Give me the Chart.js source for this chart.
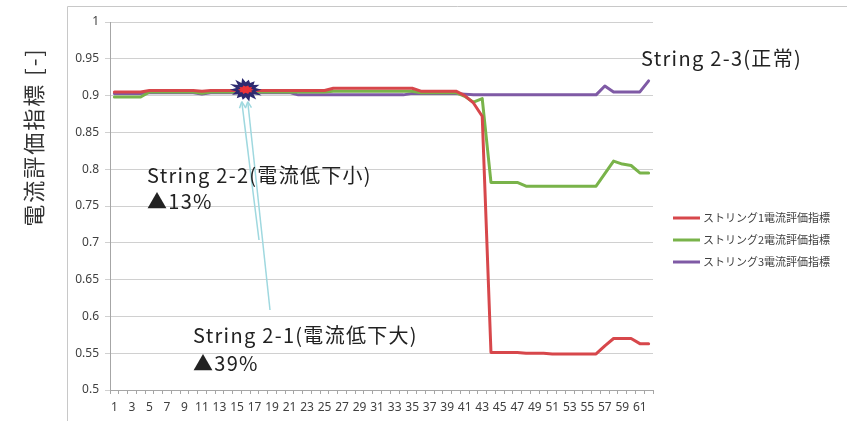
<!DOCTYPE html>
<html>
<head>
<meta charset="utf-8">
<script src="https://cdn.jsdelivr.net/npm/chart.js@4"></script>
<style>
  html, body { margin: 0; padding: 0; background: #fff; }
  #wrap { position: relative; width: 847px; height: 421px; }
  canvas { display: block; }
</style>
</head>
<body>
<div id="wrap"><canvas id="c" width="847" height="421"></canvas></div>
<script>
// Measurement index 1..62
const categories = Array.from({ length: 62 }, (_, i) => String(i + 1));

const seriesNames = [
  'ストリング1電流評価指標',
  'ストリング2電流評価指標',
  'ストリング3電流評価指標'
];

// String 1 current evaluation index
const string1 = [
  0.905, 0.905, 0.905, 0.905, 0.907, 0.907, 0.907, 0.907, 0.907, 0.907,
  0.906, 0.907, 0.907, 0.907, 0.907, 0.907, 0.907, 0.907, 0.907, 0.907,
  0.907, 0.907, 0.907, 0.907, 0.907, 0.910, 0.910, 0.910, 0.910, 0.910,
  0.910, 0.910, 0.910, 0.910, 0.910, 0.906, 0.906, 0.906, 0.906, 0.906,
  0.900, 0.890, 0.872, 0.551, 0.551, 0.551, 0.551, 0.550, 0.550, 0.550,
  0.549, 0.549, 0.549, 0.549, 0.549, 0.549, 0.560, 0.570, 0.570, 0.570,
  0.563, 0.563
];

// String 2 current evaluation index
const string2 = [
  0.898, 0.898, 0.898, 0.898, 0.905, 0.905, 0.905, 0.905, 0.905, 0.905,
  0.903, 0.905, 0.905, 0.905, 0.905, 0.905, 0.905, 0.905, 0.905, 0.905,
  0.905, 0.905, 0.905, 0.905, 0.905, 0.906, 0.906, 0.906, 0.906, 0.906,
  0.906, 0.906, 0.906, 0.906, 0.906, 0.904, 0.904, 0.904, 0.904, 0.904,
  0.899, 0.891, 0.896, 0.782, 0.782, 0.782, 0.782, 0.777, 0.777, 0.777,
  0.777, 0.777, 0.777, 0.777, 0.777, 0.777, 0.794, 0.811, 0.807, 0.805,
  0.795, 0.795
];

// String 3 current evaluation index
const string3 = [
  0.903, 0.903, 0.903, 0.903, 0.904, 0.904, 0.904, 0.904, 0.904, 0.904,
  0.902, 0.904, 0.904, 0.904, 0.904, 0.904, 0.904, 0.904, 0.904, 0.904,
  0.904, 0.901, 0.901, 0.901, 0.901, 0.901, 0.901, 0.901, 0.901, 0.901,
  0.901, 0.901, 0.901, 0.901, 0.903, 0.903, 0.903, 0.903, 0.903, 0.903,
  0.902, 0.901, 0.901, 0.901, 0.901, 0.901, 0.901, 0.901, 0.901, 0.901,
  0.901, 0.901, 0.901, 0.901, 0.901, 0.901, 0.913, 0.905, 0.905, 0.905,
  0.905, 0.920
];

const seriesColors = ['#d7474b', '#79b34a', '#7f5aa5'];

const yTitle = '電流評価指標 [-]';

// Callout texts
const notes = [
  { text: 'String 2-3(正常)', x: 641, y: 58 },
  { text: 'String 2-2(電流低下小)', x: 147, y: 175 },
  { text: '▲13%', x: 147, y: 201 },
  { text: 'String 2-1(電流低下大)', x: 193, y: 335 },
  { text: '▲39%', x: 193, y: 363 }
];

// Fault marker location (category index, value)
const faultPoint = { index: 15, value: 0.908 };

const CJK = '"Noto Sans CJK JP", "Noto Sans", sans-serif';
const TICK_FONT = '"Noto Sans", "DejaVu Sans", sans-serif';

const decor = {
  id: 'decor',
  beforeDraw(chart) {
    const ctx = chart.ctx;
    ctx.save();
    // outer chart frame
    ctx.strokeStyle = '#c8c8c8';
    ctx.lineWidth = 1;
    ctx.beginPath();
    ctx.moveTo(67.5, 430);
    ctx.lineTo(67.5, 6.5);
    ctx.lineTo(860, 6.5);
    ctx.stroke();
    ctx.restore();
  },
  afterDraw(chart) {
    const ctx = chart.ctx;
    const xs = chart.scales.x, ys = chart.scales.y;
    ctx.save();

    // y-axis title
    ctx.translate(34, 137);
    ctx.rotate(-Math.PI / 2);
    ctx.fillStyle = '#333';
    ctx.font = '22px ' + CJK;
    ctx.letterSpacing = '2px';
    ctx.textAlign = 'center';
    ctx.textBaseline = 'middle';
    ctx.fillText(yTitle, 0, 0);
    ctx.setTransform(1, 0, 0, 1, 0, 0);
    ctx.letterSpacing = '0px';

    // legend
    ctx.font = '11px ' + CJK;
    ctx.textAlign = 'left';
    ctx.textBaseline = 'middle';
    seriesNames.forEach((name, i) => {
      const y = 218 + i * 22;
      ctx.strokeStyle = seriesColors[i];
      ctx.lineWidth = 3;
      ctx.beginPath();
      ctx.moveTo(673, y);
      ctx.lineTo(700, y);
      ctx.stroke();
      ctx.fillStyle = '#404040';
      ctx.fillText(name, 703, y);
    });

    // fault marker position
    const cx = xs.getPixelForValue(faultPoint.index);
    const cy = ys.getPixelForValue(faultPoint.value);

    // arrows pointing to the marker
    const arrows = [
      { fx: 259, fy: 240, tx: cx - 4, ty: cy + 12 },
      { fx: 270, fy: 310, tx: cx + 2, ty: cy + 12 }
    ];
    ctx.strokeStyle = '#9fd8df';
    ctx.lineWidth = 1.5;
    arrows.forEach(a => {
      ctx.beginPath();
      ctx.moveTo(a.fx, a.fy);
      ctx.lineTo(a.tx, a.ty);
      ctx.stroke();
      const ang = Math.atan2(a.ty - a.fy, a.tx - a.fx);
      const L = 7, W = 0.45;
      ctx.beginPath();
      ctx.moveTo(a.tx, a.ty);
      ctx.lineTo(a.tx - L * Math.cos(ang - W), a.ty - L * Math.sin(ang - W));
      ctx.moveTo(a.tx, a.ty);
      ctx.lineTo(a.tx - L * Math.cos(ang + W), a.ty - L * Math.sin(ang + W));
      ctx.stroke();
    });

    // starburst marker
    const spikes = 14;
    ctx.beginPath();
    for (let i = 0; i < spikes * 2; i++) {
      const r = i % 2 === 0 ? 1 : 0.62;
      const jitter = [1, 0.85, 1.1, 0.9, 1.05, 0.95, 1][i % 7];
      const a = (i / (spikes * 2)) * Math.PI * 2;
      const px = cx + Math.cos(a) * 16 * r * (i % 2 === 0 ? jitter : 1);
      const py = cy + Math.sin(a) * 12 * r * (i % 2 === 0 ? jitter : 1);
      if (i === 0) ctx.moveTo(px, py); else ctx.lineTo(px, py);
    }
    ctx.closePath();
    ctx.fillStyle = '#2d2a70';
    ctx.fill();
    ctx.beginPath();
    for (let i = 0; i < 20; i++) {
      const r = i % 2 === 0 ? 1 : 0.7;
      const a = (i / 20) * Math.PI * 2;
      const px = cx + Math.cos(a) * 8 * r;
      const py = cy + Math.sin(a) * 4.5 * r;
      if (i === 0) ctx.moveTo(px, py); else ctx.lineTo(px, py);
    }
    ctx.closePath();
    ctx.fillStyle = '#ec3237';
    ctx.fill();

    // callout texts
    ctx.fillStyle = '#222';
    ctx.font = '20px ' + CJK;
    ctx.letterSpacing = '1.3px';
    ctx.textAlign = 'left';
    ctx.textBaseline = 'middle';
    notes.forEach(n => ctx.fillText(n.text, n.x, n.y));
    ctx.letterSpacing = '0px';

    ctx.restore();
  }
};

new Chart(document.getElementById('c'), {
  type: 'line',
  data: {
    labels: categories,
    datasets: [string1, string2, string3].map((d, i) => ({
      label: seriesNames[i],
      data: d,
      borderColor: seriesColors[i],
      backgroundColor: seriesColors[i],
      borderWidth: 3,
      pointRadius: 0,
      tension: 0,
      borderJoinStyle: 'round',
      borderCapStyle: 'round'
    }))
  },
  options: {
    responsive: false,
    animation: false,
    devicePixelRatio: 1,
    layout: { padding: { left: 0, right: 194, top: 22, bottom: 0 } },
    plugins: { legend: { display: false }, tooltip: { enabled: false } },
    scales: {
      x: {
        offset: true,
        grid: {
          offset: true,
          drawOnChartArea: false,
          drawTicks: true,
          tickLength: 4,
          color: '#a6a6a6'
        },
        border: { color: '#a6a6a6' },
        ticks: {
          autoSkip: false,
          maxRotation: 0,
          padding: 6,
          color: '#404040',
          font: { family: TICK_FONT, size: 12 },
          callback: (v, i) => (i % 2 === 0 ? categories[i] : '')
        },
        afterFit: s => { s.height = 31; }
      },
      y: {
        min: 0.5,
        max: 1,
        grid: {
          color: '#d0d0d0',
          lineWidth: 1,
          tickLength: 5,
          drawTicks: true
        },
        border: { color: '#a6a6a6' },
        ticks: {
          stepSize: 0.05,
          padding: 6,
          color: '#404040',
          font: { family: TICK_FONT, size: 12 },
          callback: v => String(Number(v.toFixed(2)))
        },
        afterFit: s => { s.width = 110; }
      }
    }
  },
  plugins: [decor]
});
</script>
</body>
</html>
